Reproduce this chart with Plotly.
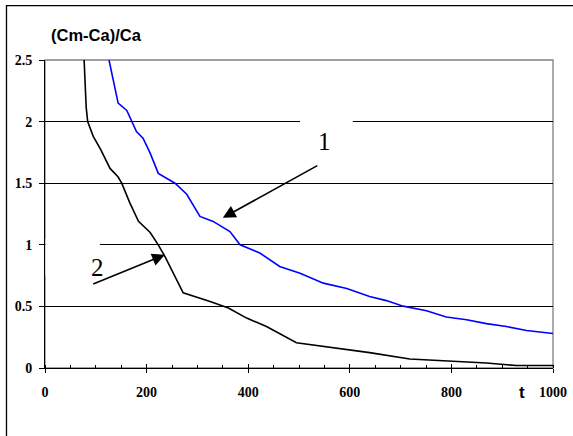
import plotly.graph_objects as go

# Curve 2 (black)
t2 = [77, 81, 84, 95, 110, 128, 144, 151, 167, 184, 207, 223, 236, 256, 272,
      325, 361, 397, 436, 495, 541, 594, 639, 718, 797, 869, 928, 1000]
v2 = [2.5, 2.12, 2.0, 1.88, 1.77, 1.62, 1.55, 1.5, 1.34, 1.19, 1.10, 1.0, 0.905,
      0.743, 0.61, 0.54, 0.487, 0.405, 0.337, 0.205, 0.181, 0.154, 0.125, 0.073,
      0.055, 0.04, 0.02, 0.02]

# Curve 1 (blue)
t1 = [126, 134, 144, 161, 171, 180, 193, 207, 223, 246, 256, 279, 305, 331, 364,
      384, 423, 462, 502, 548, 594, 639, 672, 705, 751, 790, 830, 869, 908, 948, 1000]
v1 = [2.5, 2.34, 2.15, 2.09, 2.0, 1.92, 1.865, 1.744, 1.58, 1.527, 1.5, 1.41, 1.23,
      1.19, 1.108, 1.0, 0.933, 0.824, 0.77, 0.689, 0.645, 0.58, 0.547, 0.502,
      0.465, 0.414, 0.392, 0.36, 0.337, 0.305, 0.28]

y_title = "(Cm-Ca)/Ca"
x_title = "t"
labels = ["1", "2"]

serif = "Liberation Serif, Times New Roman, serif"
sans = "Liberation Sans, Arial, sans-serif"

fig = go.Figure()
fig.add_trace(go.Scatter(x=t2, y=v2, mode="lines",
                         line=dict(color="black", width=1.6), showlegend=False))
fig.add_trace(go.Scatter(x=t1, y=v1, mode="lines",
                         line=dict(color="#0000FF", width=1.6), showlegend=False))

fig.update_layout(
    template="none",
    width=573, height=436,
    margin=dict(l=45, r=20, t=60, b=68, autoexpand=False),
    paper_bgcolor="white", plot_bgcolor="white",
    showlegend=False,
    xaxis=dict(range=[0, 1000], dtick=200, tick0=0, automargin=False,
               showgrid=False, zeroline=False,
               showline=True, linecolor="black", linewidth=1,
               ticks="outside", ticklen=4, tickcolor="black", tickwidth=1,
               minor=dict(dtick=50, ticks="inside", ticklen=3, tickcolor="black", tickwidth=1,
                          showgrid=False),
               tickfont=dict(family=serif, size=14, color="black", weight="bold"),
               ticklabelstandoff=7),
    xaxis2=dict(range=[0, 1000], dtick=200, tick0=0, overlaying="x", automargin=False,
                showgrid=False, zeroline=False, showline=False,
                ticks="inside", ticklen=4, tickcolor="black", tickwidth=1,
                showticklabels=False, side="bottom"),
    yaxis=dict(range=[0, 2.5], dtick=0.5, tick0=0, automargin=False,
               showgrid=True, gridcolor="black", gridwidth=1,
               zeroline=False,
               showline=True, linecolor="black", linewidth=1,
               ticks="outside", ticklen=5, tickcolor="black", tickwidth=1,
               ticklabelstandoff=4,
               tickfont=dict(family=serif, size=14, color="black", weight="bold")),
)

# invisible trace so xaxis2 is drawn
fig.add_trace(go.Scatter(x=[0], y=[0], xaxis="x2", mode="markers",
                         marker=dict(opacity=0), hoverinfo="skip", showlegend=False))

shapes = [
    # plot-area border (gray)
    dict(type="rect", xref="paper", yref="paper", x0=0, x1=1, y0=0, y1=1,
         line=dict(color="#808080", width=1.3), layer="between"),
    # white boxes behind labels (break gridlines)
    dict(type="rect", xref="x", yref="y", x0=502, x1=606, y0=1.8, y1=2.06,
         fillcolor="white", line=dict(width=0), layer="between"),
    dict(type="rect", xref="x", yref="y", x0=1, x1=108, y0=0.75, y1=1.05,
         fillcolor="white", line=dict(width=0), layer="between"),
    # outer chart border (left & top visible)
    dict(type="rect", xref="paper", yref="paper", x0=-0.0758, x1=1.3, y0=-0.4, y1=1.1768,
         line=dict(color="black", width=1.3), layer="below"),
]
fig.update_layout(shapes=shapes)

ann = [
    dict(text=y_title, xref="paper", yref="paper", x=0.008, y=1.081,
         xanchor="left", yanchor="middle", showarrow=False,
         font=dict(family=sans, size=16.5, color="black", weight="bold")),
    dict(text=x_title, xref="paper", yref="paper", x=0.939, y=-0.080,
         xanchor="center", yanchor="middle", showarrow=False,
         font=dict(family=sans, size=17, color="black", weight="bold")),
    dict(text=labels[0], x=551, y=1.835, xref="x", yref="y", showarrow=False,
         font=dict(family=serif, size=25, color="black")),
    dict(text=labels[1], x=104, y=0.813, xref="x", yref="y", showarrow=False,
         font=dict(family=serif, size=25, color="black")),
    dict(text="", x=350, y=1.219, ax=539, ay=1.649, xref="x", yref="y",
         axref="x", ayref="y", showarrow=True, arrowhead=2, arrowsize=1.6,
         arrowwidth=1.6, arrowcolor="black", standoff=0),
    dict(text="", x=236, y=0.919, ax=92, ay=0.676, xref="x", yref="y",
         axref="x", ayref="y", showarrow=True, arrowhead=2, arrowsize=1.6,
         arrowwidth=1.6, arrowcolor="black", standoff=0),
]
fig.update_layout(annotations=ann)

fig.write_html("out.html",
               config={"displayModeBar": False, "staticPlot": True},
               post_script="document.body.style.margin='0';document.body.style.overflow='hidden';")
